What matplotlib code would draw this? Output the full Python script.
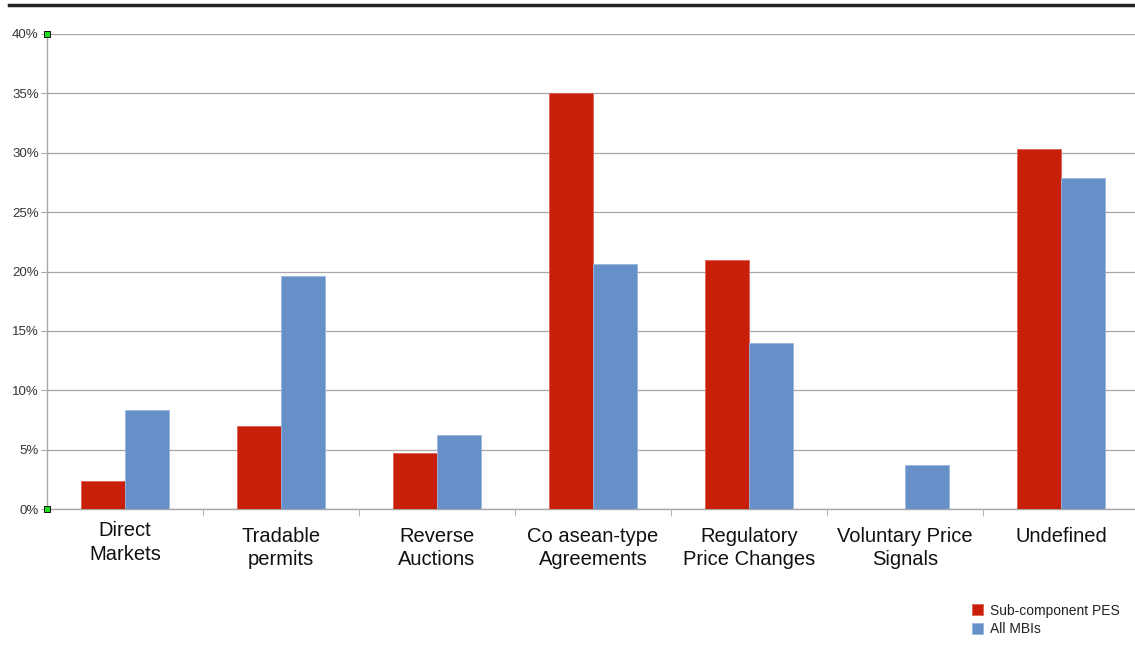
import matplotlib.pyplot as plt
import numpy as np
from matplotlib.lines import Line2D
from matplotlib.ticker import FixedLocator

categories = ["Direct\nMarkets", "Tradable\npermits", "Reverse\nAuctions",
              "Co asean-type\nAgreements", "Regulatory\nPrice Changes",
              "Voluntary Price\nSignals", "Undefined"]
pes = [2.4, 7.0, 4.7, 35.0, 21.0, 0.0, 30.3]
mbis = [8.3, 19.6, 6.2, 20.6, 14.0, 3.7, 27.9]
yticks = [0, 5, 10, 15, 20, 25, 30, 35, 40]

RED = "#c81f08"
BLUE = "#6890c8"
GRID = "#a8a6a8"

plt.rcParams["font.family"] = ["Liberation Sans", "DejaVu Sans"]

fig = plt.figure(figsize=(11.35, 6.72), dpi=100)
ax = fig.add_axes([47 / 1135, 1 - 509 / 672, 1092 / 1135, 475 / 672])

x = np.arange(len(categories))
w = 0.283
ax.bar(x - w / 2, pes, w, color=RED, edgecolor="#e0605a", linewidth=0.6,
       label="Sub-component PES", zorder=3)
ax.bar(x + w / 2, mbis, w, color=BLUE, edgecolor="#9ab4dc", linewidth=0.6,
       label="All MBIs", zorder=3)

ax.set_xlim(-0.5, len(categories) - 0.5)
ax.set_ylim(0, 40)
ax.set_yticks(yticks)
ax.set_yticklabels([f"{v}%" for v in yticks], fontsize=9.5, color="#333333")
ax.yaxis.grid(True, color=GRID, linewidth=0.9, zorder=0)
ax.tick_params(axis="y", length=4, color=GRID, pad=2)

ax.set_xticks([])
ax.xaxis.set_minor_locator(FixedLocator(np.arange(0.5, len(categories) - 0.5, 1)))
ax.tick_params(axis="x", which="minor", length=5, color=GRID, direction="out")

for s in ["top", "right"]:
    ax.spines[s].set_visible(False)
for s in ["left", "bottom"]:
    ax.spines[s].set_color(GRID)
    ax.spines[s].set_linewidth(1.0)

for i, name in enumerate(categories):
    dy = 0.026 if i == 0 else 0.037
    ax.text(i, -dy, name, transform=ax.get_xaxis_transform(), ha="center",
            va="top", fontsize=14.5, color="#111111", linespacing=1.3)

# selection handles on the value axis
for yv in (0, 40):
    ax.plot([-0.5], [yv], marker="s", markersize=5, color="#22dd22",
            markeredgecolor="#111111", markeredgewidth=0.7, clip_on=False, zorder=5)

fig.add_artist(Line2D([9 / 1135, 1], [1 - 5 / 672, 1 - 5 / 672],
                      color="#222222", linewidth=2.5))

fig.legend(loc="upper left", bbox_to_anchor=(966 / 1135, 1 - 598 / 672),
           frameon=False, fontsize=10, handlelength=0.8, handleheight=0.8,
           handletextpad=0.5, labelspacing=0.35, borderaxespad=0,
           labelcolor="#222222")

fig.savefig("out.png", dpi=100)
